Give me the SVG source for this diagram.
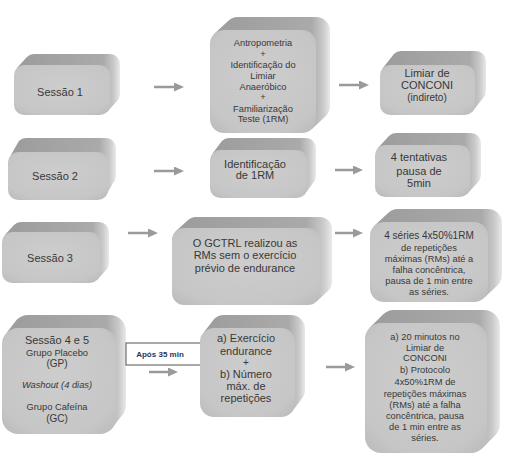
<svg xmlns="http://www.w3.org/2000/svg" width="507" height="454" viewBox="0 0 507 454">
<defs>
<linearGradient id="ge" x1="0" y1="0" x2="1" y2="0">
<stop offset="0" stop-color="#9c9c9c"/>
<stop offset="0.84" stop-color="#aaaaaa"/>
<stop offset="0.94" stop-color="#c9c9c9"/>
<stop offset="1" stop-color="#e9e9e9"/>
</linearGradient>
<radialGradient id="gf" cx="0.5" cy="0.45" r="0.7">
<stop offset="0" stop-color="#cdcdcd"/>
<stop offset="0.8" stop-color="#c6c6c6"/>
<stop offset="1" stop-color="#bcbcbc"/>
</radialGradient>
<marker id="ah" markerWidth="10" markerHeight="9" refX="1" refY="4.5" orient="auto" markerUnits="userSpaceOnUse">
<path d="M0,0 L10,4.5 L0,9 Z" fill="#9a9a9a"/>
</marker>
<style>
.ext{fill:url(#ge)}
.front{fill:url(#gf)}
text{font-family:"Liberation Sans",Arial,sans-serif;fill:#383838;text-anchor:middle}
.t11{font-size:11px}
.t10{font-size:10px}
.t9{font-size:9.3px}
.conn line{stroke:#9a9a9a;stroke-width:2.5;marker-end:url(#ah)}
</style>
</defs>

<g id="sessao1">
<path class="ext" d="M16.9,67.9 L26.9,56.9 A10,10 0 0 1 34,54 H110 A10,10 0 0 1 120,64 V94 A10,10 0 0 1 117.1,101.1 L107.1,112.1 Z"/>
<rect class="front" x="14" y="65" width="96" height="50" rx="10"/>
<text class="t11" x="60" y="96">Sessão 1</text>
</g>

<g id="antropometria">
<path class="ext" d="M214.1,34.1 L228.1,21.1 A14,14 0 0 1 238,17 H316 A14,14 0 0 1 330,31 V106 A14,14 0 0 1 325.9,115.9 L311.9,128.9 Z"/>
<rect class="front" x="210" y="30" width="106" height="103" rx="14"/>
<text class="t9" x="263" y="46">Antropometria</text>
<text class="t9" x="263" y="57">+</text>
<text class="t9" x="263" y="67.5">Identificação  do</text>
<text class="t9" x="263" y="78.5">Limiar</text>
<text class="t9" x="263" y="89.5">Anaeróbico</text>
<text class="t9" x="263" y="100">+</text>
<text class="t9" x="263" y="111.5">Familiarização</text>
<text class="t9" x="263" y="122">Teste (1RM)</text>
</g>

<g id="limiar">
<path class="ext" d="M382.9,67.9 L393.9,53.9 A10,10 0 0 1 401,51 H476 A10,10 0 0 1 486,61 V91 A10,10 0 0 1 483.1,98.1 L472.1,112.1 Z"/>
<rect class="front" x="380" y="65" width="95" height="50" rx="10"/>
<text class="t11" x="427" y="77">Limiar de</text>
<text class="t11" x="427" y="89">CONCONI</text>
<text class="t10" x="427" y="101">(indireto)</text>
</g>

<g id="sessao2">
<path class="ext" d="M10.9,154.9 L18.9,140.9 A10,10 0 0 1 26,138 H106 A10,10 0 0 1 116,148 V176 A10,10 0 0 1 113.1,183.1 L105.1,197.1 Z"/>
<rect class="front" x="8" y="152" width="100" height="48" rx="10"/>
<text class="t11" x="55" y="180">Sessão 2</text>
</g>

<g id="identificacao">
<path class="ext" d="M212.9,152.9 L221.9,140.9 A10,10 0 0 1 229,138 H306 A10,10 0 0 1 316,148 V176 A10,10 0 0 1 313.1,183.1 L304.1,195.1 Z"/>
<rect class="front" x="210" y="150" width="97" height="48" rx="10"/>
<text class="t11" x="255" y="168">Identificação</text>
<text class="t11" x="255" y="179">de 1RM</text>
</g>

<g id="tentativas">
<path class="ext" d="M377.9,147.9 L388.9,135.9 A10,10 0 0 1 396,133 H471 A10,10 0 0 1 481,143 V175 A10,10 0 0 1 478.1,182.1 L467.1,194.1 Z"/>
<rect class="front" x="375" y="145" width="95" height="52" rx="10"/>
<text class="t11" x="419" y="161">4 tentativas</text>
<text class="t11" x="419" y="175">pausa de</text>
<text class="t11" x="419" y="187">5min</text>
</g>

<g id="sessao3">
<path class="ext" d="M4.9,234.9 L13.9,224.9 A10,10 0 0 1 21,222 H99 A10,10 0 0 1 109,232 V263 A10,10 0 0 1 106.1,270.1 L97.1,280.1 Z"/>
<rect class="front" x="2" y="232" width="98" height="51" rx="10"/>
<text class="t11" x="50" y="262">Sessão 3</text>
</g>

<g id="gctrl">
<path class="ext" d="M175.5,231.5 L187.5,220.5 A12,12 0 0 1 196,217 H320 A12,12 0 0 1 332,229 V282 A12,12 0 0 1 328.5,290.5 L316.5,301.5 Z"/>
<rect class="front" x="172" y="228" width="148" height="77" rx="12"/>
<text class="t11" x="245" y="247">O GCTRL realizou as</text>
<text class="t11" x="245" y="259">RMs sem o exercício</text>
<text class="t11" x="245" y="272">prévio de endurance</text>
</g>

<g id="series">
<path class="ext" d="M374.1,226.1 L388.1,213.1 A14,14 0 0 1 398,209 H488 A14,14 0 0 1 502,223 V275 A14,14 0 0 1 497.9,284.9 L483.9,297.9 Z"/>
<rect class="front" x="370" y="222" width="118" height="80" rx="14"/>
<text class="t10" x="429" y="239">4 séries 4x50%1RM</text>
<text class="t9" x="429" y="250.5">de repetições</text>
<text class="t9" x="429" y="261.5">máximas (RMs) até a</text>
<text class="t9" x="429" y="273">falha concêntrica,</text>
<text class="t9" x="429" y="284">pausa de 1 min entre</text>
<text class="t9" x="429" y="294.5">as séries.</text>
</g>

<g id="sessao45">
<path class="ext" d="M6.7,332.7 L16.7,319.7 A16,16 0 0 1 28,315 H110 A16,16 0 0 1 126,331 V405 A16,16 0 0 1 121.3,416.3 L111.3,429.3 Z"/>
<rect class="front" x="2" y="328" width="114" height="106" rx="16"/>
<text class="t11" x="57" y="344">Sessão 4 e 5</text>
<text class="t9" x="57" y="355.5">Grupo Placebo</text>
<text class="t10" x="57" y="367">(GP)</text>
<text class="t9" x="57" y="387.5" font-style="italic">Washout (4 dias)</text>
<text class="t9" x="57" y="409.5">Grupo Cafeína</text>
<text class="t10" x="57" y="422">(GC)</text>
</g>

<g id="apos">
<rect x="126" y="343" width="75" height="22" fill="#ffffff" stroke="#555555" stroke-width="1"/>
<text x="160" y="356.5" style="font-size:8px;font-weight:bold;fill:#1f3864">Após 35 min</text>
</g>

<g id="exercicio">
<path class="ext" d="M204.1,332.1 L214.1,319.1 A14,14 0 0 1 224,315 H291 A14,14 0 0 1 305,329 V390 A14,14 0 0 1 300.9,399.9 L290.9,412.9 Z"/>
<rect class="front" x="200" y="328" width="95" height="89" rx="14"/>
<text class="t11" x="246" y="342">a) Exercício</text>
<text class="t11" x="246" y="355">endurance</text>
<text class="t10" x="246" y="366">+</text>
<text class="t11" x="246" y="378">b) Número</text>
<text class="t11" x="246" y="390">máx. de</text>
<text class="t11" x="246" y="402">repetições</text>
</g>

<g id="protocolo">
<path class="ext" d="M369.7,327.7 L382.7,314.7 A16,16 0 0 1 394,310 H484 A16,16 0 0 1 500,326 V424 A16,16 0 0 1 495.3,435.3 L482.3,448.3 Z"/>
<rect class="front" x="365" y="323" width="122" height="130" rx="16"/>
<text class="t9" x="425" y="339.5">a) 20 minutos no</text>
<text class="t9" x="425" y="350.5">Limiar de</text>
<text class="t9" x="425" y="361">CONCONI</text>
<text class="t9" x="425" y="372.5">b) Protocolo</text>
<text class="t9" x="425" y="384.5">4x50%1RM de</text>
<text class="t9" x="425" y="396.5">repetições máximas</text>
<text class="t9" x="425" y="407.5">(RMs) até a falha</text>
<text class="t9" x="425" y="418.5">concêntrica, pausa</text>
<text class="t9" x="425" y="429.5">de 1 min entre as</text>
<text class="t9" x="425" y="441">séries.</text>
</g>

<g class="conn" id="connectors">
<line x1="154" y1="87" x2="175" y2="87"/>
<line x1="339" y1="85" x2="360" y2="85"/>
<line x1="154" y1="171" x2="175" y2="171"/>
<line x1="335" y1="170" x2="354" y2="170"/>
<line x1="128" y1="233" x2="149" y2="233"/>
<line x1="335" y1="233" x2="354" y2="233"/>
<line x1="149" y1="372" x2="169" y2="372"/>
<line x1="326" y1="367" x2="346" y2="367"/>
</g>
</svg>
